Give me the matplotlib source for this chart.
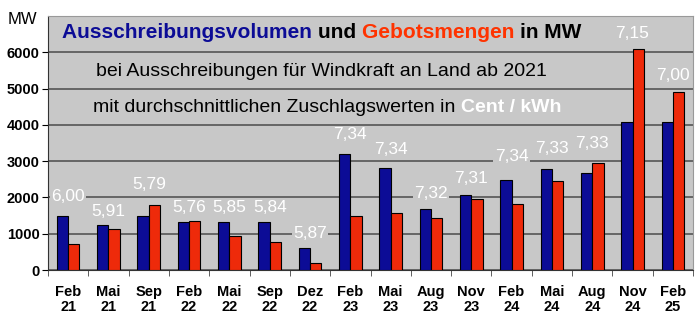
import numpy as np
import matplotlib
matplotlib.use("Agg")
import matplotlib.pyplot as plt

# data
months = ["Feb\n21", "Mai\n21", "Sep\n21", "Feb\n22", "Mai\n22", "Sep\n22", "Dez\n22",
          "Feb\n23", "Mai\n23", "Aug\n23", "Nov\n23", "Feb\n24", "Mai\n24", "Aug\n24",
          "Nov\n24", "Feb\n25"]
volumen = [1500, 1230, 1480, 1310, 1320, 1320, 600, 3210, 2820, 1670, 2070, 2470, 2780, 2680, 4090, 4090]
gebote = [710, 1130, 1800, 1350, 930, 770, 190, 1480, 1580, 1430, 1970, 1830, 2460, 2960, 6100, 4900]
zuschlag = ["6,00", "5,91", "5,79", "5,76", "5,85", "5,84", "5,87", "7,34", "7,34", "7,32",
            "7,31", "7,34", "7,33", "7,33", "7,15", "7,00"]
label_y = [2020, 1600, 2350, 1720, 1720, 1720, 1000, 3730, 3320, 2120, 2520, 3120, 3340, 3480, 6520, 5360]

plt.rcParams['font.family'] = ['Liberation Sans', 'DejaVu Sans']

fig = plt.figure(figsize=(7, 3.22), dpi=100)
ax = fig.add_axes([48 / 700, 52 / 322, 645 / 700, 254 / 322])
ax.set_facecolor('#C8C8C8')

x = np.arange(len(months))
w = 0.28
ax.bar(x - w / 2, volumen, w, color='#0C0C96', edgecolor='black', linewidth=0.8, zorder=3)
ax.bar(x + w / 2, gebote, w, color='#EE2A0A', edgecolor='black', linewidth=0.8, zorder=3)

for xi, yi, s in zip(x, label_y, zuschlag):
    ax.text(xi, yi, s, ha='center', va='center', color='white', fontsize=12.5, zorder=4,
            bbox=dict(facecolor='#C8C8C8', edgecolor='none', pad=1))

ax.set_xlim(-0.5, len(months) - 0.5)
ax.set_ylim(0, 7000)
ax.set_yticks(range(0, 7000, 1000))
ax.yaxis.grid(True, color='#555555', linewidth=1.2, zorder=1)
ax.set_axisbelow(True)
ax.set_xticks(x)
ax.set_xticklabels(months, fontweight='bold', fontsize=10.5, linespacing=1.1)
ax.set_xticks(np.arange(-0.5, len(months)), minor=True)
ax.tick_params(axis='x', which='major', length=0, pad=11)
ax.tick_params(axis='x', which='minor', length=4, color='#444444')
ax.tick_params(axis='y', labelsize=10.5, length=4, pad=2)
for lab in ax.get_yticklabels():
    lab.set_fontweight('bold')

ax.spines['left'].set_color('#333333')
ax.spines['bottom'].set_color('#333333')
ax.spines['top'].set_color('#999999')
ax.spines['right'].set_color('#999999')

fig.text(8 / 700, 1 - 20 / 322, "MW", fontsize=12, va='center', ha='left')

# multicoloured heading, drawn piece by piece
fig.canvas.draw()
renderer = fig.canvas.get_renderer()
pieces = [("Ausschreibungsvolumen ", '#0C0C96'), ("und ", 'black'),
          ("Gebotsmengen ", '#FF3300'), ("in MW", 'black')]
xpos = 62
for txt, col in pieces:
    t = fig.text(xpos / 700, 1 - 33 / 322, txt, fontsize=15, fontweight='bold',
                 color=col, va='center', ha='left')
    xpos += t.get_window_extent(renderer).width

fig.text(96 / 700, 1 - 72 / 322, "bei Ausschreibungen für Windkraft an Land ab 2021",
         fontsize=14, va='center', ha='left')
t = fig.text(93 / 700, 1 - 107 / 322, "mit durchschnittlichen Zuschlagswerten in ",
             fontsize=14, va='center', ha='left')
xe = 93 + t.get_window_extent(renderer).width
fig.text(xe / 700, 1 - 107 / 322, "Cent / kWh", fontsize=14, fontweight='bold',
         color='white', va='center', ha='left')

fig.savefig("out.png", dpi=100)
